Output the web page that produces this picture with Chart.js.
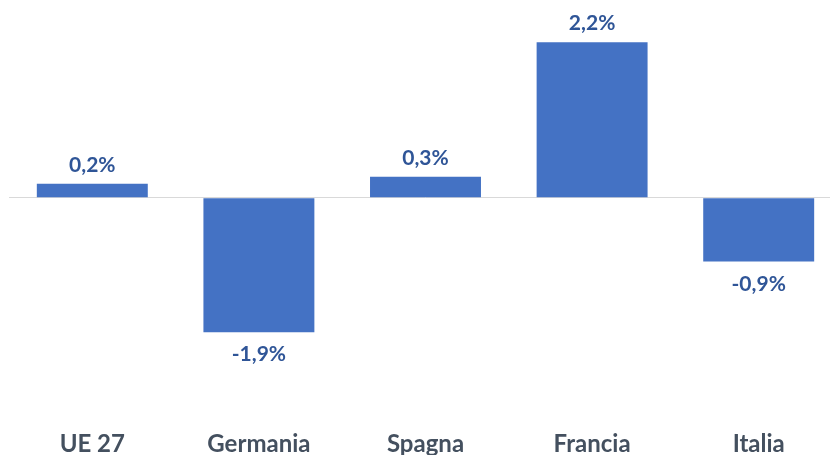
<!DOCTYPE html>
<html>
<head>
<meta charset="utf-8">
<script src="https://cdn.jsdelivr.net/npm/chart.js@4/dist/chart.umd.min.js"></script>
<style>
  html, body { margin: 0; padding: 0; background: #fff; overflow: hidden; width: 830px; height: 455px; }
  #wrap { width: 842px; height: 455px; }
</style>
</head>
<body>
<div id="wrap"><canvas id="chart" width="842" height="455"></canvas></div>
<script>
const categories = ['UE 27', 'Germania', 'Spagna', 'Francia', 'Italia'];
const values = [0.2, -1.9, 0.3, 2.2, -0.9];

const barColor = '#4472C4';
const valueColor = '#2F5597';
const labelColor = '#44505f';

function formatPct(v) {
  return v.toFixed(1).replace('.', ',') + '%';
}

// draws the value above / below each bar
const valueLabels = {
  id: 'valueLabels',
  afterDatasetsDraw(chart) {
    const ctx = chart.ctx;
    const meta = chart.getDatasetMeta(0);
    ctx.save();
    ctx.font = 'bold 21px Lato';
    ctx.fillStyle = valueColor;
    ctx.textAlign = 'center';
    ctx.textBaseline = 'alphabetic';
    meta.data.forEach((bar, i) => {
      const v = values[i];
      const y = v >= 0 ? bar.y - 12 : bar.y + 29;
      ctx.fillText(formatPct(v), bar.x, y);
    });
    ctx.restore();
  }
};

new Chart(document.getElementById('chart'), {
  type: 'bar',
  data: {
    labels: categories,
    datasets: [{
      data: values,
      backgroundColor: barColor,
      barPercentage: 1,
      categoryPercentage: 0.666
    }]
  },
  options: {
    responsive: false,
    animation: false,
    layout: { padding: { left: 9, right: 0, top: 21, bottom: 0 } },
    plugins: { legend: { display: false }, tooltip: { enabled: false } },
    scales: {
      x: {
        grid: { display: false, drawTicks: false },
        border: { display: false },
        afterFit: scale => { scale.height = 52; },
        ticks: {
          padding: 27,
          color: labelColor,
          font: { family: 'Lato', size: 24, weight: 'bold' }
        }
      },
      y: {
        min: -2.9,
        max: 2.5,
        ticks: { display: false, stepSize: 0.1 },
        border: { display: false },
        grid: {
          drawTicks: false,
          color: c => (Math.abs(c.tick.value) < 1e-9 ? '#d9d9d9' : 'rgba(0,0,0,0)'),
          lineWidth: 1
        }
      }
    }
  },
  plugins: [valueLabels]
});
</script>
</body>
</html>
